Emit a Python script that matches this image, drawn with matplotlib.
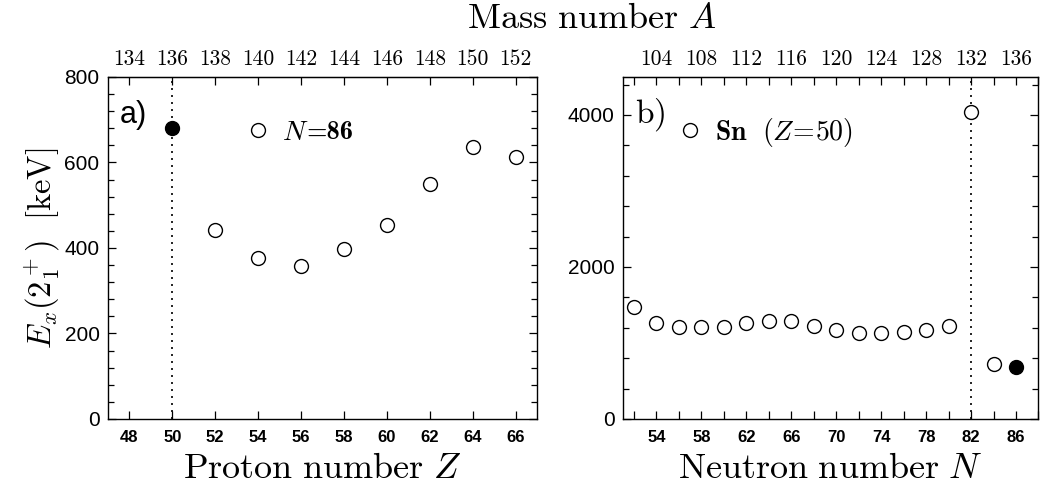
import matplotlib
matplotlib.use("Agg")
import matplotlib.pyplot as plt
from matplotlib.ticker import MultipleLocator, FixedLocator, NullFormatter

plt.rcParams['mathtext.fontset'] = 'cm'
plt.rcParams['font.family'] = ['Liberation Sans', 'DejaVu Sans']

# ---- data ----
Z_n86 = [50, 52, 54, 56, 58, 60, 62, 64, 66]
E_n86 = [681, 442, 376, 359, 397, 454, 549, 637, 613]
filled_n86 = [True, False, False, False, False, False, False, False, False]

N_sn = [52, 54, 56, 58, 60, 62, 64, 66, 68, 70, 72, 74, 76, 78, 80, 82, 84, 86]
E_sn = [1468, 1257, 1209, 1209, 1214, 1257, 1292, 1284, 1227, 1165, 1135, 1130,
        1139, 1165, 1222, 4044, 727, 679]
filled_sn = [False] * 17 + [True]

left_xticks = [48, 50, 52, 54, 56, 58, 60, 62, 64, 66]
right_xticks = [54, 58, 62, 66, 70, 74, 78, 82, 86]

fig = plt.figure(figsize=(10.44, 4.92), dpi=100)
ax1 = fig.add_axes([0.1034, 0.1484, 0.4110, 0.6951])
ax2 = fig.add_axes([0.5965, 0.1484, 0.3982, 0.6951])

ms = 10
mew = 1.0

def plot_points(ax, xs, ys, filled):
    for x, y, f in zip(xs, ys, filled):
        ax.plot([x], [y], 'o', ms=ms, mew=mew, mec='black',
                mfc='black' if f else 'white', zorder=3)

def style(ax):
    for s in ax.spines.values():
        s.set_linewidth(1.0)
    ax.tick_params(which='both', direction='in', top=False, right=True, width=0.9)
    ax.tick_params(which='major', length=6)
    ax.tick_params(which='minor', length=4)
    ax.tick_params(axis='y', labelsize=15, pad=6)
    ax.tick_params(axis='x', labelsize=12, pad=8)
    for lab in ax.get_xticklabels():
        lab.set_fontweight('bold')

LABEL_FS = 26
TOP_FS = 15.5

# ---- left panel ----
ax1.set_xlim(47, 67)
ax1.set_ylim(0, 800)
ax1.axvline(50, color='black', ls=(0, (1.2, 3)), lw=1.2, zorder=1)
plot_points(ax1, Z_n86, E_n86, filled_n86)
ax1.xaxis.set_major_locator(FixedLocator(left_xticks))
ax1.yaxis.set_major_locator(MultipleLocator(200))
ax1.yaxis.set_minor_locator(MultipleLocator(40))
style(ax1)
sec1 = ax1.secondary_xaxis('top', functions=(lambda z: z + 86, lambda a: a - 86))
sec1.xaxis.set_major_locator(FixedLocator([z + 86 for z in left_xticks]))
sec1.tick_params(direction='in', length=6, width=0.9, labelsize=TOP_FS, pad=6,
                 labelfontfamily='cmr10')
ax1.set_xlabel(r'$\mathrm{Proton\ number}\ Z$', fontsize=LABEL_FS, labelpad=4)
ax1.set_ylabel(r'$E_x(2_1^+)\ \ [\mathrm{keV}]$', fontsize=23.5, labelpad=2)
ax1.text(0.028, 0.889, 'a)', transform=ax1.transAxes, fontsize=22,
         ha='left', va='center')
ax1.plot([54], [675], 'o', ms=ms, mew=mew, mec='black', mfc='white')
ax1.text(55.1, 670, r'$N$', fontsize=20, ha='left', va='center')
ax1.annotate('=86', xy=(55.1, 670), xytext=(18, 0), textcoords='offset points',
             fontsize=19, fontfamily='cmb10', ha='left', va='center')

# ---- right panel ----
ax2.set_xlim(51, 88)
ax2.set_ylim(0, 4500)
ax2.axvline(82, color='black', ls=(0, (1.2, 3)), lw=1.2, zorder=1)
plot_points(ax2, N_sn, E_sn, filled_sn)
ax2.xaxis.set_major_locator(FixedLocator(right_xticks))
ax2.xaxis.set_minor_locator(MultipleLocator(2))
ax2.yaxis.set_major_locator(MultipleLocator(2000))
ax2.yaxis.set_minor_locator(MultipleLocator(400))
style(ax2)
ax2.tick_params(axis='x', which='minor', length=6)
sec2 = ax2.secondary_xaxis('top', functions=(lambda n: n + 50, lambda a: a - 50))
sec2.xaxis.set_major_locator(FixedLocator([n + 50 for n in right_xticks]))
sec2.xaxis.set_minor_locator(MultipleLocator(2))
sec2.xaxis.set_minor_formatter(NullFormatter())
sec2.tick_params(which='both', direction='in', length=6, width=0.9)
sec2.tick_params(labelsize=TOP_FS, pad=6, labelfontfamily='cmr10')
ax2.set_xlabel(r'$\mathrm{Neutron\ number}\ N$', fontsize=LABEL_FS, labelpad=4)
ax2.text(0.03, 0.889, r'$\mathrm{b)}$', transform=ax2.transAxes, fontsize=24,
         ha='left', va='center')
ax2.plot([57], [3800], 'o', ms=ms, mew=mew, mec='black', mfc='white')
ax2.text(59.2, 3768, r'$\mathbf{Sn}\ \ (Z\!\mathrm{=}\!\mathrm{50})$', fontsize=20,
         ha='left', va='center')

fig.text(0.567, 0.963, r'$\mathrm{Mass\ number}\ A$', fontsize=LABEL_FS,
         ha='center', va='center')

fig.savefig('out.png', dpi=100)
